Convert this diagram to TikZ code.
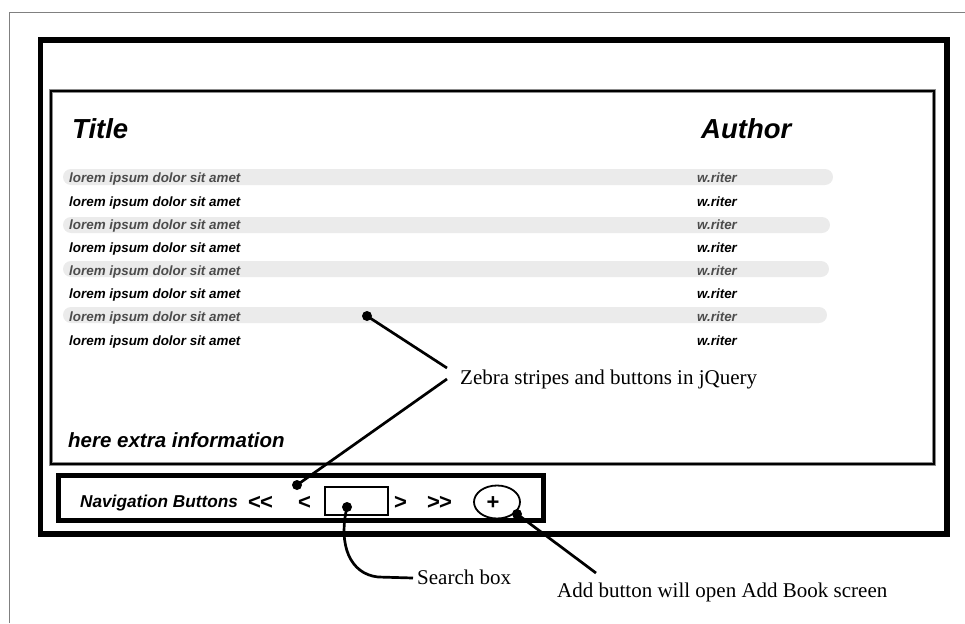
\documentclass[tikz,border=0pt]{standalone}
\usepackage{fontspec}
\usetikzlibrary{shapes.geometric}
\setmainfont{Liberation Serif}
\setsansfont[Ligatures=NoCommon]{Liberation Sans}
\begin{document}
\begin{tikzpicture}[x=1pt,y=-1pt,
  frame/.style={line width=5.5pt},
  txt/.style={inner sep=0pt,anchor=base west,font=\sffamily\bfseries\itshape},
  rowg/.style={txt,font=\fontsize{13.4}{14}\sffamily\bfseries\itshape,text=black!70},
  rowb/.style={txt,font=\fontsize{13.4}{14}\sffamily\bfseries\itshape,text=black},
  stripe/.style={fill=black!8,draw=none,rounded corners=8pt},
  lbl/.style={inner sep=0pt,anchor=base west,font=\fontsize{21}{24}\selectfont},
  dotc/.style={circle,fill=black,inner sep=0pt,minimum size=10pt},
  conn/.style={line width=2.7pt},
  navsym/.style={inner sep=0pt,anchor=base west,font=\fontsize{22}{24}\sffamily\bfseries}
]
\useasboundingbox (0,0) rectangle (965,623);
% outer thin gray border
\draw[black!50,line width=1pt] (9,623) -- (9,13) -- (965,13);
% big black frame
\draw[frame] (40.5,40) rectangle (947,534);
% inner content frame
\draw[black!45,line width=3.5pt] (51,91) rectangle (934,464);
\draw[line width=1.8pt] (51,91) rectangle (934,464);
% headings
\node[txt,font=\fontsize{27.5}{30}\sffamily\bfseries\itshape] (title) at (72,139) {Title};
\node[txt,font=\fontsize{27.5}{30}\sffamily\bfseries\itshape] (author) at (701,139) {Author};
% stripes
\fill[stripe] (63,169) rectangle (833,185);
\fill[stripe] (63,217) rectangle (830,233);
\fill[stripe] (63,261) rectangle (829,277);
\fill[stripe] (63,307) rectangle (827,323);
% rows
\foreach \i/\y/\s in {1/182/rowg,2/206/rowb,3/229/rowg,4/252/rowb,5/275/rowg,6/298/rowb,7/321/rowg,8/345/rowb}{
  \node[\s] (t\i) at (69,\y) {lorem ipsum dolor sit amet};
  \node[\s] (a\i) at (697,\y) {w.riter};
}
\node[txt,font=\fontsize{20.5}{22}\sffamily\bfseries\itshape] (extra) at (68,447) {here extra information};
% navigation box
\draw[line width=5pt] (58.5,475) rectangle (543,520.5);
\node[txt,font=\fontsize{17.2}{19}\sffamily\bfseries\itshape] (nav) at (80,507) {Navigation Buttons};
\node[navsym] (first) at (248,509) {{<}\kern-1pt{<}};
\node[navsym] (prev) at (298,509) {<};
\node[draw,line width=1.3pt,minimum width=63pt,minimum height=28pt,inner sep=0pt] (search) at (356.5,501) {};
\node[navsym] (next) at (394,509) {>};
\node[navsym] (last) at (427,509) {{>}\kern-1pt{>}};
\node[draw,ellipse,line width=1.8pt,minimum width=46pt,minimum height=33pt,inner sep=0pt] (addbtn) at (497,502) {};
\node[navsym,anchor=base] (plus) at (493,509) {+};
% dots
\node[dotc] (dz1) at (367,316) {};
\node[dotc] (dz2) at (297,485) {};
\node[dotc] (ds) at (347,507) {};
\node[dotc] (da) at (517,514) {};
% labels
\node[lbl] (zebra) at (460,384) {Zebra stripes and buttons in jQuery};
\node[lbl] (slbl) at (417,584) {Search box};
\node[lbl] (albl) at (557,597) {Add button will open Add Book screen};
\coordinate (za) at (447,368);
\coordinate (zb) at (447,379);
\coordinate (sc) at (413,578);
\coordinate (ac) at (596,573);
% connectors
\draw[conn] (dz1.center) -- (za);
\draw[conn] (dz2.center) -- (zb);
\draw[conn] (ds.center) .. controls (338,545) and (350,574) .. (378,577) -- (sc);
\draw[conn] (da.center) -- (ac);
\end{tikzpicture}
\end{document}
